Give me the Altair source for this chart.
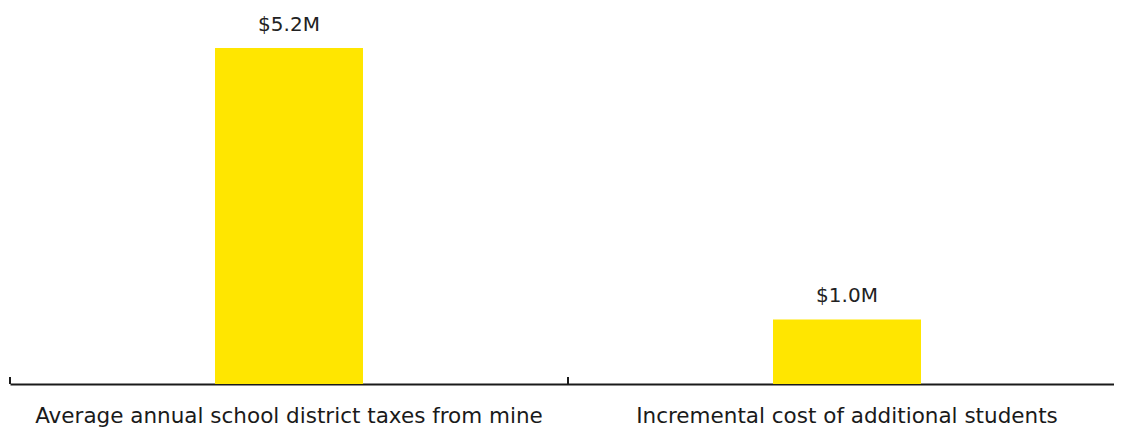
import altair as alt
import pandas as pd

categories = ["Average annual school district taxes from mine", "Incremental cost of additional students"]
values = [5.2, 1.0]
value_labels = ["$5.2M", "$1.0M"]

df = pd.DataFrame({"cat": categories, "value": values, "label": value_labels})

H = 376
x_scale = alt.Scale(paddingInner=0, paddingOuter=0, range=[0, 1116])
x_axis = alt.Axis(
    title=None, ticks=False, labelAngle=0, domain=True, domainColor="#1a1a1a",
    domainWidth=2, labelFont="DejaVu Sans", labelFontSize=21.5, labelColor="#1a1a1a",
    labelBaseline="alphabetic", labelPadding=38, labelLimit=0, grid=False,
)
X = alt.X("cat:N", sort=categories, scale=x_scale, axis=x_axis)
Y = alt.Y("value:Q", scale=alt.Scale(domain=[0, 5.82]), axis=None)

bars = alt.Chart(df).mark_bar(color="#FFE600", size=148).encode(x=X, y=Y)
text = alt.Chart(df).mark_text(
    dy=-17, baseline="alphabetic", font="DejaVu Sans", fontSize=20, color="#222222"
).encode(x=X, y=Y, text="label:N")
ticks = alt.Chart(df).mark_rule(color="#1a1a1a", strokeWidth=2).encode(
    x=alt.X("cat:N", sort=categories, scale=x_scale, axis=x_axis, bandPosition=0),
    y=alt.value(H - 7),
    y2=alt.value(H),
)

chart = alt.layer(bars, text, ticks).properties(
    width=1104, height=H,
    padding={"left": 2, "top": 0, "right": 0, "bottom": 46},
    autosize=alt.AutoSizeParams(type="none"),
).configure_view(stroke=None)

chart.save("out.html", embed_options={"renderer": "svg", "actions": False})
